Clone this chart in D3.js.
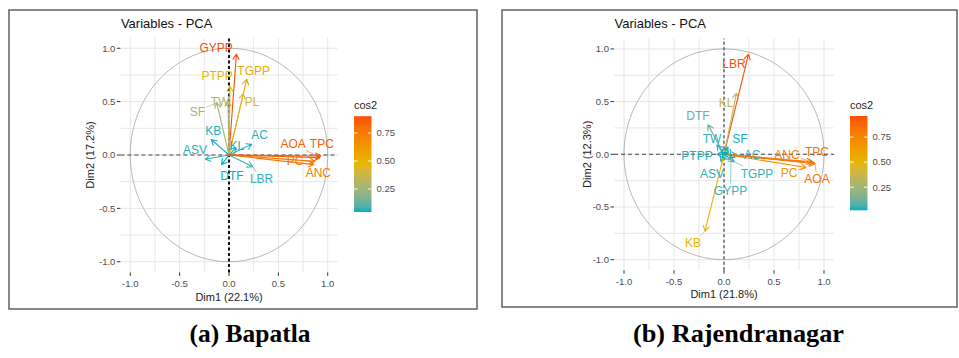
<!DOCTYPE html>
<html><head><meta charset="utf-8">
<script src="https://cdn.jsdelivr.net/npm/d3@7"></script>
<style>
body{margin:0;background:#fff;}
svg{display:block;font-family:"Liberation Sans",Arial,Helvetica,sans-serif;}
</style>
</head><body>
<svg id="chart" width="959" height="358"></svg>
<script>
// ---------------- DATA ----------------
const axisTicks = [-1, -0.5, 0, 0.5, 1];
const axisTickLabels = ["-1.0", "-0.5", "0.0", "0.5", "1.0"];
const gridValues = [-1, -0.75, -0.5, -0.25, 0, 0.25, 0.5, 0.75, 1];
const legendTicks = [0.25, 0.5, 0.75];
const legendTickLabels = ["0.25", "0.50", "0.75"];
const gradientColors = ["#00AFBB", "#E7B800", "#FC4E07"];

// (a) Bapatla
const bapatlaVars  = ["GYPP","TGPP","PTPP","PL","TW","SF","KB","ASV","AC","KL","DTF","LBR","ANC","PC","AOA","TPC"];
const bapatlaDim1  = [0.075, 0.18, 0.01, 0.145, -0.01, -0.125, -0.18, -0.24, 0.23, 0.07, -0.075, 0.24, 0.86, 0.87, 0.92, 0.93];
const bapatlaDim2  = [0.945, 0.71, 0.645, 0.575, 0.51, 0.49, 0.145, -0.04, 0.10, 0.07, -0.09, -0.11, -0.09, -0.06, -0.025, -0.01];
const bapatlaCos2  = [0.90, 0.54, 0.47, 0.42, 0.28, 0.26, 0.053, 0.06, 0.063, 0.05, 0.045, 0.07, 0.75, 0.76, 0.85, 0.87];
const bapatlaLabelDim1 = [-0.13, 0.25, -0.12, 0.235, -0.09, -0.32, -0.16, -0.345, 0.31, 0.08, 0.03, 0.33, 0.905, 0.67, 0.65, 0.94];
const bapatlaLabelDim2 = [1.01, 0.79, 0.74, 0.50, 0.50, 0.41, 0.23, 0.045, 0.19, 0.09, -0.19, -0.225, -0.17, -0.05, 0.11, 0.11];

// (b) Rajendranagar
const rajVars  = ["LBR","KL","DTF","TW","SF","PTPP","PL","AC","ASV","TGPP","GYPP","KB","PC","ANC","TPC","AOA"];
const rajDim1  = [0.245, 0.125, -0.16, -0.07, 0.04, -0.07, 0.03, 0.13, -0.03, 0.10, 0.07, -0.19, 0.82, 0.88, 0.90, 0.91];
const rajDim2  = [0.95, 0.58, 0.28, 0.09, 0.07, 0.0, 0.02, -0.01, -0.07, -0.07, -0.05, -0.73, -0.125, -0.07, -0.08, -0.09];
const rajCos2  = [0.96, 0.35, 0.10, 0.04, 0.03, 0.03, 0.02, 0.04, 0.03, 0.05, 0.05, 0.51, 0.69, 0.78, 0.82, 0.83];
const rajLabelDim1 = [0.10, 0.02, -0.26, -0.12, 0.16, -0.27, 0.04, 0.28, -0.12, 0.33, 0.065, -0.31, 0.65, 0.63, 0.93, 0.93];
const rajLabelDim2 = [0.86, 0.485, 0.365, 0.15, 0.15, -0.015, 0.01, -0.005, -0.18, -0.18, -0.345, -0.84, -0.175, -0.005, 0.02, -0.23];

// ---------------- LAYOUT ----------------
const panels = [
  {
    vars: bapatlaVars, d1: bapatlaDim1, d2: bapatlaDim2, cos2: bapatlaCos2,
    l1: bapatlaLabelDim1, l2: bapatlaLabelDim2,
    box: {x: 9, y: 10, w: 468, h: 299},
    xr: [120.4, 337.6], yr: [272.4, 37.6],
    xTitle: "Dim1 (22.1%)", yTitle: "Dim2 (17.2%)", yTitleX: 90, xTitleY: 300.5,
    legend: {x: 354, w: 17.5, y0: 217, y1: 105, titleY: 109},
    vlineColor: "#111", vlineWidth: 2,
    caption: "(a) Bapatla", capX: 250, capLen: 121
  },
  {
    vars: rajVars, d1: rajDim1, d2: rajDim2, cos2: rajCos2,
    l1: rajLabelDim1, l2: rajLabelDim2,
    box: {x: 502, y: 10, w: 455, h: 297},
    xr: [614, 834], yr: [270.2, 38.4],
    xTitle: "Dim1 (21.8%)", yTitle: "Dim2 (12.3%)", yTitleX: 587, xTitleY: 298,
    legend: {x: 850, w: 17.5, y0: 212.3, y1: 112, titleY: 109},
    vlineColor: "#666", vlineWidth: 1.5,
    caption: "(b) Rajendranagar", capX: 738.5, capLen: 211
  }
];

const svg = d3.select("#chart");
const defs = svg.append("defs");

panels.forEach((p, pi) => {
  const g = svg.append("g");
  g.append("rect").attr("x", p.box.x).attr("y", p.box.y).attr("width", p.box.w).attr("height", p.box.h)
    .attr("fill", "#fff").attr("stroke", "#555").attr("stroke-width", 1.4);

  const x = d3.scaleLinear().domain([-1.1, 1.1]).range(p.xr);
  const y = d3.scaleLinear().domain([-1.1, 1.1]).range(p.yr);

  const cmin = d3.min(p.cos2), cmax = d3.max(p.cos2);
  const color = d3.scaleLinear().domain([cmin, (cmin + cmax) / 2, cmax])
    .range(gradientColors).interpolate(d3.interpolateLab);

  const grid = g.append("g");
  gridValues.forEach(v => {
    grid.append("line").attr("x1", x(v)).attr("x2", x(v)).attr("y1", p.yr[0]).attr("y2", p.yr[1])
      .attr("stroke", "#e6e6e6").attr("stroke-width", 1);
    grid.append("line").attr("y1", y(v)).attr("y2", y(v)).attr("x1", p.xr[0]).attr("x2", p.xr[1])
      .attr("stroke", "#e6e6e6").attr("stroke-width", 1);
  });

  const circ = d3.range(0, 361, 2).map(a => [Math.cos(a * Math.PI / 180), Math.sin(a * Math.PI / 180)]);
  g.append("path").attr("d", d3.line().x(d => x(d[0])).y(d => y(d[1]))(circ))
    .attr("fill", "none").attr("stroke", "#9a9a9a").attr("stroke-width", 0.7);

  g.append("line").attr("x1", p.xr[0]).attr("x2", p.xr[1]).attr("y1", y(0)).attr("y2", y(0))
    .attr("stroke", "#444").attr("stroke-width", 1.1).attr("stroke-dasharray", "4,3");
  g.append("line").attr("x1", x(0)).attr("x2", x(0)).attr("y1", p.yr[0]).attr("y2", p.yr[1])
    .attr("stroke", p.vlineColor).attr("stroke-width", p.vlineWidth).attr("stroke-dasharray", "3,2.5");

  const tickCol = "#4d4d4d";
  axisTicks.forEach((t, i) => {
    g.append("line").attr("x1", x(t)).attr("x2", x(t)).attr("y1", p.yr[0]).attr("y2", p.yr[0] + 3.5)
      .attr("stroke", "#333").attr("stroke-width", 1);
    g.append("text").attr("x", x(t)).attr("y", p.yr[0] + 14.5).attr("text-anchor", "middle")
      .attr("font-size", 9.5).attr("fill", tickCol).text(axisTickLabels[i]);
    g.append("line").attr("x1", p.xr[0] - 3.5).attr("x2", p.xr[0]).attr("y1", y(t)).attr("y2", y(t))
      .attr("stroke", "#333").attr("stroke-width", 1);
    g.append("text").attr("x", p.xr[0] - 5).attr("y", y(t) + 3.3).attr("text-anchor", "end")
      .attr("font-size", 9.5).attr("fill", tickCol).text(axisTickLabels[i]);
  });

  g.append("text").attr("x", p.xr[0] + 0.5).attr("y", 27.5).attr("font-size", 13).attr("fill", "#111")
    .text("Variables - PCA");
  g.append("text").attr("x", x(0)).attr("y", p.xTitleY).attr("text-anchor", "middle")
    .attr("font-size", 11).attr("fill", "#222").text(p.xTitle);
  g.append("text").attr("transform", `translate(${p.yTitleX},${y(0)}) rotate(-90)`)
    .attr("text-anchor", "middle").attr("dominant-baseline", "central")
    .attr("font-size", 11).attr("fill", "#222").text(p.yTitle);

  const ag = g.append("g");
  const headLen = 6, headAng = Math.PI / 6;
  p.vars.forEach((v, i) => {
    const x0 = x(0), y0 = y(0), x1 = x(p.d1[i]), y1 = y(p.d2[i]);
    const c = color(p.cos2[i]);
    const ang = Math.atan2(y1 - y0, x1 - x0);
    const hx1 = x1 - headLen * Math.cos(ang - headAng), hy1 = y1 - headLen * Math.sin(ang - headAng);
    const hx2 = x1 - headLen * Math.cos(ang + headAng), hy2 = y1 - headLen * Math.sin(ang + headAng);
    ag.append("path")
      .attr("d", `M${x0},${y0}L${x1},${y1}M${hx1},${hy1}L${x1},${y1}L${hx2},${hy2}`)
      .attr("fill", "none").attr("stroke", c).attr("stroke-width", 1.1)
      .attr("stroke-linecap", "round").attr("stroke-linejoin", "round");
  });

  const lg = g.append("g");
  p.vars.forEach((v, i) => {
    const c = color(p.cos2[i]);
    const lx = x(p.l1[i]), ly = y(p.l2[i]);
    const t = lg.append("text").attr("x", lx).attr("y", ly + 4.3).attr("text-anchor", "middle")
      .attr("font-size", 12).attr("fill", c).text(v);
    const hw = t.node().getComputedTextLength() / 2 + 1, hh = 7;
    const px = x(p.d1[i]), py = y(p.d2[i]);
    const dx = px - lx, dy = py - ly;
    const s = Math.min(dx !== 0 ? hw / Math.abs(dx) : Infinity, dy !== 0 ? hh / Math.abs(dy) : Infinity);
    if (s < 1) {
      const sx = lx + dx * s, sy = ly + dy * s;
      const len = Math.hypot(px - sx, py - sy);
      if (len > 6) {
        lg.insert("line", ":first-child").attr("x1", sx).attr("y1", sy).attr("x2", px).attr("y2", py)
          .attr("stroke", c).attr("stroke-width", 0.6);
      }
    }
  });

  const L = p.legend;
  const ly = d3.scaleLinear().domain([0, 1]).range([L.y0, L.y1]);
  const gid = "grad" + pi;
  const grad = defs.append("linearGradient").attr("id", gid).attr("x1", 0).attr("y1", 1).attr("x2", 0).attr("y2", 0);
  d3.range(0, 1.0001, 0.05).forEach(f => {
    grad.append("stop").attr("offset", f).attr("stop-color", color(cmin + f * (cmax - cmin)));
  });
  g.append("text").attr("x", L.x).attr("y", L.titleY).attr("font-size", 11).attr("fill", "#222").text("cos2");
  g.append("rect").attr("x", L.x).attr("y", ly(cmax)).attr("width", L.w).attr("height", ly(cmin) - ly(cmax))
    .attr("fill", `url(#${gid})`);
  legendTicks.forEach((t, i) => {
    g.append("line").attr("x1", L.x).attr("x2", L.x + 3.5).attr("y1", ly(t)).attr("y2", ly(t))
      .attr("stroke", "#fff").attr("stroke-width", 1);
    g.append("line").attr("x1", L.x + L.w - 3.5).attr("x2", L.x + L.w).attr("y1", ly(t)).attr("y2", ly(t))
      .attr("stroke", "#fff").attr("stroke-width", 1);
    g.append("text").attr("x", L.x + L.w + 5).attr("y", ly(t) + 3.3).attr("font-size", 9.5)
      .attr("fill", tickCol).text(legendTickLabels[i]);
  });

  svg.append("text").attr("x", p.capX).attr("y", 342).attr("text-anchor", "middle")
    .attr("font-family", "'Liberation Serif','Times New Roman',serif").attr("font-weight", "bold")
    .attr("font-size", 26).attr("fill", "#000")
    .attr("textLength", p.capLen).attr("lengthAdjust", "spacingAndGlyphs")
    .text(p.caption);
});
</script>
</body></html>
